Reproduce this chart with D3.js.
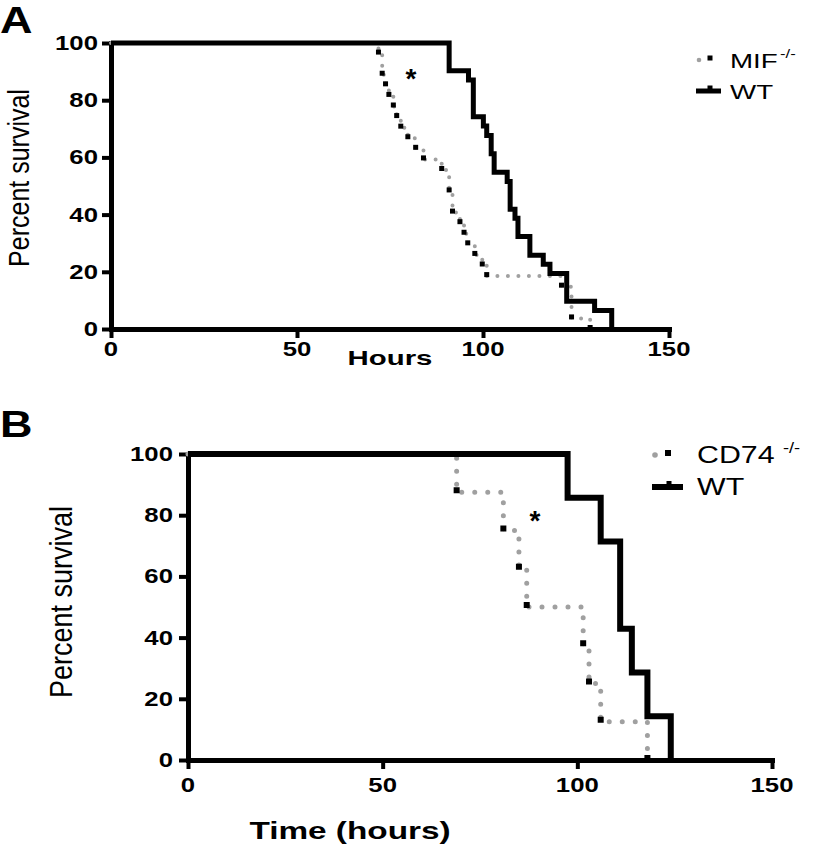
<!DOCTYPE html>
<html><head><meta charset="utf-8">
<script src="https://cdn.jsdelivr.net/npm/d3@7"></script>
<style>body{margin:0;background:#fff} svg{display:block} text{font-family:"Liberation Sans",Arial,sans-serif}</style>
</head><body><svg id="c" width="813" height="847"></svg>
<script>
// ---- data ----
const yTicks=[0,20,40,60,80,100];
const xTicks=[0,50,100,150];
const mifTimes=[71.9,72.9,73.8,74.7,75.9,76.8,77.9,79.8,81.9,84.0,88.9,90.9,91.8,93.8,94.9,95.9,97.8,99.8,101.0,121.1,123.8,128.8];
const mifSurv=[96.3,88.9,85.2,81.5,77.8,74.1,70.4,66.7,63.0,59.3,55.6,48.1,40.7,37.0,33.3,29.6,25.9,22.2,18.5,14.8,3.7,0];
const wtATimes=[90.9,96.1,97.4,100.1,101.0,102.2,103.0,106.5,107.3,108.6,109.4,112.6,116.2,118.0,122.5,130.0,134.6];
const wtASurv=[90.3,87.1,74.2,71.0,67.7,61.3,54.8,51.6,41.9,38.7,32.3,25.8,22.6,19.4,9.7,6.5,0];
const cd74Times=[69,81,85,87,101.5,103,106,118];
const cd74Surv=[87.5,75,62.5,50,37.5,25,12.5,0];
const wtBTimes=[97.5,106,111,114,118,124];
const wtBSurv=[85.7,71.4,42.9,28.6,14.3,0];
const koLabelA="MIF", koLabelB="CD74", wtLabel="WT", supLabel="-/-";

const svg=d3.select("#c");
const SX=1.32;

function txt(g,x,y,s,o){
  o=o||{};
  const t=g.append("text")
    .attr("transform",`translate(${x},${y}) scale(${o.sx||SX},1)${o.rot?" rotate("+o.rot+")":""}`)
    .attr("text-anchor",o.anchor||"start")
    .attr("font-size",o.size||19)
    .attr("font-weight",o.weight||"normal")
    .attr("fill","#000")
    .text(s);
  return t;
}

function panel(cfg){
  const g=svg.append("g");
  const x=d3.scaleLinear().domain([0,150]).range([cfg.x0,cfg.x1]);
  const y=d3.scaleLinear().domain([0,100]).range([cfg.y0,cfg.y1]);
  // axes
  const ax=g.append("g").attr("transform",`translate(0,${cfg.y0})`)
    .call(d3.axisBottom(x).tickValues(xTicks).tickSize(9).tickSizeOuter(0).tickFormat(""));
  const ay=g.append("g").attr("transform",`translate(${cfg.x0},0)`)
    .call(d3.axisLeft(y).tickValues(yTicks).tickSize(9).tickSizeOuter(0).tickFormat(""));
  [ax,ay].forEach(a=>{
    a.select(".domain").attr("stroke","#000").attr("stroke-width",5).attr("stroke-linecap","square");
    a.selectAll(".tick line").attr("stroke","#000").attr("stroke-width",4);
  });
  xTicks.forEach(v=>txt(g,x(v),cfg.xLabY,String(v),{anchor:"middle",weight:"bold",size:19.5}));
  yTicks.forEach(v=>txt(g,cfg.x0-cfg.yLabOff,y(v)+7,String(v),{anchor:"end",weight:"bold",size:19.5}));

  const line=d3.line().x(d=>x(d[0])).y(d=>y(d[1])).curve(d3.curveStepAfter);
  const ko=[[0,100]].concat(cfg.koT.map((t,i)=>[t,cfg.koS[i]]));
  const wt=[[0,100]].concat(cfg.wtT.map((t,i)=>[t,cfg.wtS[i]]));
  g.append("path").attr("d",line(ko)).attr("fill","none").attr("stroke","#a0a0a0")
    .attr("stroke-width",cfg.dotW).attr("stroke-linecap","round").attr("stroke-dasharray",`0 ${cfg.dotGap}`);
  g.append("path").attr("d",line(wt)).attr("fill","none").attr("stroke","#000")
    .attr("stroke-width",cfg.wtW).attr("stroke-linejoin","miter");
  const sz=cfg.sq;
  g.selectAll("rect.sq").data(cfg.koT.map((t,i)=>[t,cfg.koS[i]])).enter().append("rect")
    .attr("x",d=>x(d[0])-sz/2).attr("y",d=>y(d[1])-sz+1).attr("width",sz).attr("height",sz).attr("fill","#000");
  // legend
  const L=cfg.leg;
  g.append("circle").attr("cx",L.x).attr("cy",L.y1).attr("r",cfg.dotW/2+0.3).attr("fill","#a0a0a0");
  g.append("rect").attr("x",L.x+L.sqdx-sz/2).attr("y",L.y1-sz/2-2).attr("width",sz).attr("height",sz).attr("fill","#000");
  txt(g,L.tx,L.y1+L.fs*0.36,cfg.koLabel,{size:L.fs});
  txt(g,L.supx,L.y1-2,supLabel,{size:L.fs*0.6});
  g.append("line").attr("x1",L.x-3).attr("x2",L.x+L.lw).attr("y1",L.y2).attr("y2",L.y2).attr("stroke","#000").attr("stroke-width",cfg.wtW);
  g.append("rect").attr("x",L.x+L.lw/2-2.5).attr("y",L.y2-cfg.wtW/2-3).attr("width",5).attr("height",5).attr("fill","#000");
  txt(g,L.tx,L.y2+L.fs*0.36,wtLabel,{size:L.fs});
  // asterisk
  txt(g,cfg.ast[0],cfg.ast[1],"*",{anchor:"middle",weight:"bold",size:28,sx:1});
  // axis titles
  txt(g,cfg.ylab[0],cfg.ylab[1],"Percent survival",{anchor:"middle",size:cfg.ylab[2],rot:-90,sx:1.15});
  txt(g,cfg.xlab[0],cfg.xlab[1],cfg.xlabText,{anchor:"middle",weight:"bold",size:cfg.xlab[2],sx:cfg.xlab[3]});
  txt(g,0,cfg.letter[1],cfg.letter[0],{weight:"bold",size:36,sx:1.25});
}

panel({x0:111,x1:669,y0:329,y1:43,xLabY:356,yLabOff:13,koT:mifTimes,koS:mifSurv,wtT:wtATimes,wtS:wtASurv,
  dotW:4,dotGap:10.5,wtW:5,sq:5,koLabel:koLabelA,
  leg:{x:699,y1:60,sqdx:11,tx:730,supx:780,fs:21,y2:91,lw:22},
  ast:[411,88],ylab:[29,178,25],xlab:[390,365,21,1.4],xlabText:"Hours",letter:["A",33]});
panel({x0:188,x1:772,y0:760,y1:454,xLabY:792,yLabOff:15,koT:cd74Times,koS:cd74Surv,wtT:wtBTimes,wtS:wtBSurv,
  dotW:5,dotGap:13,wtW:6,sq:6,koLabel:koLabelB,
  leg:{x:655,y1:455,sqdx:13,tx:697,supx:783,fs:23,y2:487,lw:28},
  ast:[535,530],ylab:[72,602,27],xlab:[350,839,23,1.45],xlabText:"Time (hours)",letter:["B",437]});
</script></body></html>
